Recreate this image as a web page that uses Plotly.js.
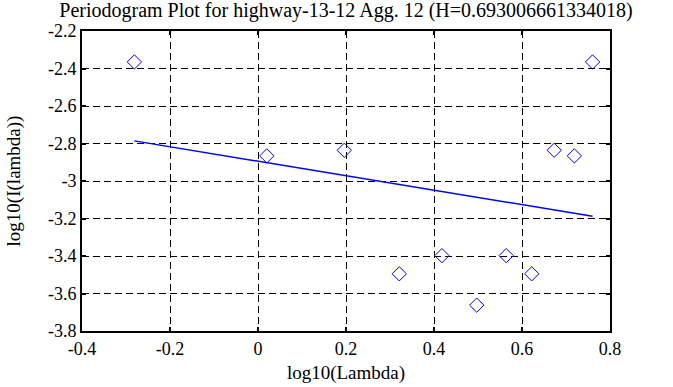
<!DOCTYPE html>
<html>
<head>
<meta charset="utf-8">
<script src="https://cdn.plot.ly/plotly-3.0.1.min.js"></script>
<style>html,body{margin:0;padding:0;background:#fff}#chart{width:673px;height:387px}</style>
</head>
<body>
<div id="chart"></div>
<script>
// log10(Lambda) values
var logLambda = [-0.2810, 0.0200, 0.1961, 0.3211, 0.4180, 0.4971, 0.5641, 0.6221, 0.6732, 0.7190, 0.7604];
// log10(I(lambda)) values
var logI = [-2.365, -2.866, -2.836, -3.495, -3.398, -3.662, -3.398, -3.495, -2.836, -2.866, -2.365];
// fitted line endpoints
var fitX = [-0.2810, 0.7604];
var fitY = [-2.786, -3.188];
var xTicks = [-0.4, -0.2, 0, 0.2, 0.4, 0.6, 0.8];
var xTickText = ['-0.4', '-0.2', '0', '0.2', '0.4', '0.6', '0.8'];
var yTicks = [-3.8, -3.6, -3.4, -3.2, -3, -2.8, -2.6, -2.4, -2.2];
var yTickText = ['-3.8', '-3.6', '-3.4', '-3.2', '-3', '-2.8', '-2.6', '-2.4', '-2.2'];

var fontFam = '"Liberation Serif", "Times New Roman", serif';

var traces = [
  {x: logLambda, y: logI, mode: 'markers', type: 'scatter',
   marker: {symbol: 'diamond-open', size: 11, color: '#0000ff', line: {width: 1, color: '#0000ff'}},
   showlegend: false, hoverinfo: 'skip'},
  {x: fitX, y: fitY, mode: 'lines', type: 'scatter',
   line: {color: '#0000ff', width: 1.5}, showlegend: false, hoverinfo: 'skip'}
];

var layout = {
  width: 673, height: 387,
  margin: {l: 82, r: 63, t: 31, b: 56, pad: 0},
  paper_bgcolor: '#ffffff', plot_bgcolor: '#ffffff',
  font: {family: fontFam, size: 18, color: '#000'},
  title: {text: 'Periodogram Plot for highway-13-12 Agg. 12 (H=0.693006661334018)',
          font: {family: fontFam, size: 20, color: '#000'},
          x: 0.5, xref: 'paper', y: 0.975, yref: 'container', yanchor: 'middle'},
  xaxis: {range: [-0.4, 0.8], tickvals: xTicks, ticktext: xTickText,
          showgrid: true, gridcolor: '#000', gridwidth: 1, griddash: '7px,4px',
          zeroline: false, showline: true, linecolor: '#000', linewidth: 2, mirror: 'ticks',
          ticks: 'inside', ticklen: 4, tickcolor: '#000', tickwidth: 2,
          title: {text: 'log10(Lambda)', font: {family: fontFam, size: 19}, standoff: 8},
          tickfont: {family: fontFam, size: 18}},
  yaxis: {range: [-3.8, -2.2], tickvals: yTicks, ticktext: yTickText,
          showgrid: true, gridcolor: '#000', gridwidth: 1, griddash: '7px,4px',
          zeroline: false, showline: true, linecolor: '#000', linewidth: 2, mirror: 'ticks',
          ticks: 'inside', ticklen: 4, tickcolor: '#000', tickwidth: 2,
          title: {text: 'log10(I(lambda))', font: {family: fontFam, size: 19}, standoff: 22},
          tickfont: {family: fontFam, size: 18}}
};

Plotly.newPlot('chart', traces, layout, {staticPlot: true, displayModeBar: false});
</script>
</body>
</html>
